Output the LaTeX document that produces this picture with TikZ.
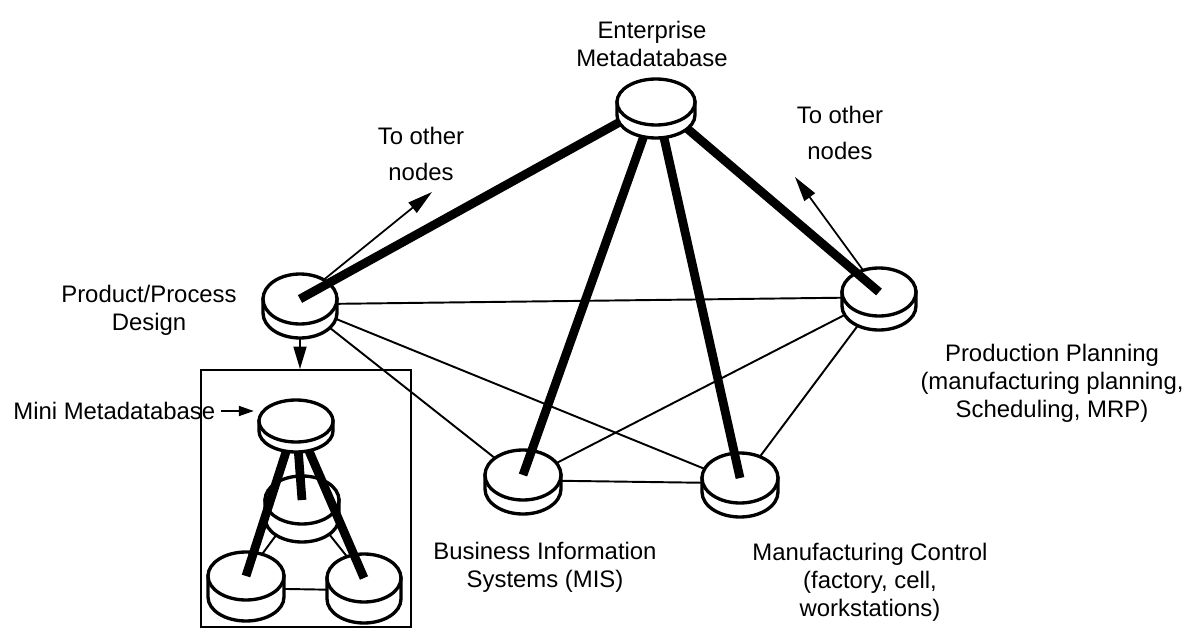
\documentclass[tikz,border=0pt]{standalone}
\usepackage{fontspec}
\setmainfont{Liberation Sans}
\usetikzlibrary{arrows.meta}

\tikzset{
  pics/dbdisk/.style n args={3}{code={
    \filldraw[line width=1.9pt,fill=white] (-#1,0) -- (-#1,#3) arc[start angle=180,end angle=0,x radius=#1,y radius=#2] -- (#1,0) -- cycle;
    \filldraw[line width=1.9pt,fill=white] (0,0) ellipse[x radius=#1,y radius=#2];
  }}
}

\begin{document}
\begin{tikzpicture}[x=0.02cm,y=-0.02cm,
  lbl/.style={font=\fontsize{13.6}{16}\selectfont,align=center,inner sep=0pt},
  farlbl/.style={font=\fontsize{13.6}{20.5}\selectfont,align=center,inner sep=0pt},
  thinlink/.style={line width=1.1pt},
  thicklink/.style={line width=5pt},
  outarrow/.style={line width=1pt,-{Triangle[length=5mm,width=2.6mm]}}]
\useasboundingbox (0,0) rectangle (1190,635);

\coordinate (ent) at (656,102);
\coordinate (ppd) at (300,299);
\coordinate (ppl) at (879,292);
\coordinate (bis) at (523,475);
\coordinate (mfc) at (740,478);
\coordinate (mtop) at (296,421);
\coordinate (mmid) at (302,500);
\coordinate (mbl) at (246,576);
\coordinate (mbr) at (364,578);
\coordinate (toa) at (432,192);
\coordinate (tob) at (795,177);

\node[lbl] (entlbl) at (652,44) {Enterprise\\Metadatabase};
\node[farlbl] (toalbl) at (421,154) {To other\\nodes};
\node[farlbl] (toblbl) at (840,133) {To other\\nodes};
\node[lbl] (ppdlbl) at (149,310) {Product/Process\\Design};
\node[lbl,anchor=west] (minilbl) at (13,411) {Mini Metadatabase};
\node[lbl] (ppllbl) at (1052,383) {Production Planning\\(manufacturing planning,\\Scheduling, MRP)};
\node[lbl] (bislbl) at (545,567) {Business Information\\Systems (MIS)};
\node[lbl] (mfclbl) at (870,582) {Manufacturing Control\\(factory, cell,\\workstations)};

\draw[thinlink] ([yshift=-3pt]ppd) -- ([yshift=-3pt]ppl);
\draw[thinlink] ([yshift=-3pt]ppd) -- ([yshift=-3pt]bis);
\draw[thinlink] ([yshift=-3pt]ppd) -- ([yshift=-3pt]mfc);
\draw[thinlink] ([yshift=-3pt]ppl) -- ([yshift=-3pt]bis);
\draw[thinlink] ([yshift=-3pt]ppl) -- ([yshift=-3pt]mfc);
\draw[thinlink] ([yshift=-3pt]bis) -- ([yshift=-3pt]mfc);
\draw[outarrow] (ppd) -- (toa);
\draw[outarrow] (ppl) -- (tob);

\node[draw,line width=1.1pt,minimum width=4.2cm,minimum height=5.14cm,inner sep=0pt] (mini) at (306,498.5) {};
\draw[line width=1pt,-{Triangle[length=4.5mm,width=2.6mm]}] (ppd) -- (ppd |- mini.north);
\draw[thinlink] (mmid) -- (mbl);
\draw[thinlink] (mmid) -- (mbr);
\draw[thinlink] ([yshift=-7pt]mbl) -- ([yshift=-7pt]mbr);

\pic at (ppd) {dbdisk={37}{25}{14}};
\pic at (ppl) {dbdisk={37}{24}{14}};
\pic at (bis) {dbdisk={38}{25}{14}};
\pic at (mfc) {dbdisk={38}{25}{14}};
\pic at (mmid) {dbdisk={37}{24}{18}};
\pic at (mbl) {dbdisk={38}{24}{21}};
\pic at (mbr) {dbdisk={37}{24}{21}};

\draw[thicklink] (ent) -- (ppd);
\draw[thicklink] (ent) -- (bis);
\draw[thicklink] (ent) -- (mfc);
\draw[thicklink] (ent) -- (ppl);
\draw[thicklink] (mtop) -- (mbl);
\draw[thicklink] (mtop) -- (mbr);
\draw[thicklink] (mtop) -- (mmid);

\pic at (ent) {dbdisk={39}{23}{13}};
\pic at (mtop) {dbdisk={37}{21}{10}};

\draw[line width=1pt,shorten <=3pt,shorten >=24pt,-{Triangle[length=3mm,width=2mm]}] (minilbl.east) -- (minilbl.east -| mtop);
\end{tikzpicture}
\end{document}
